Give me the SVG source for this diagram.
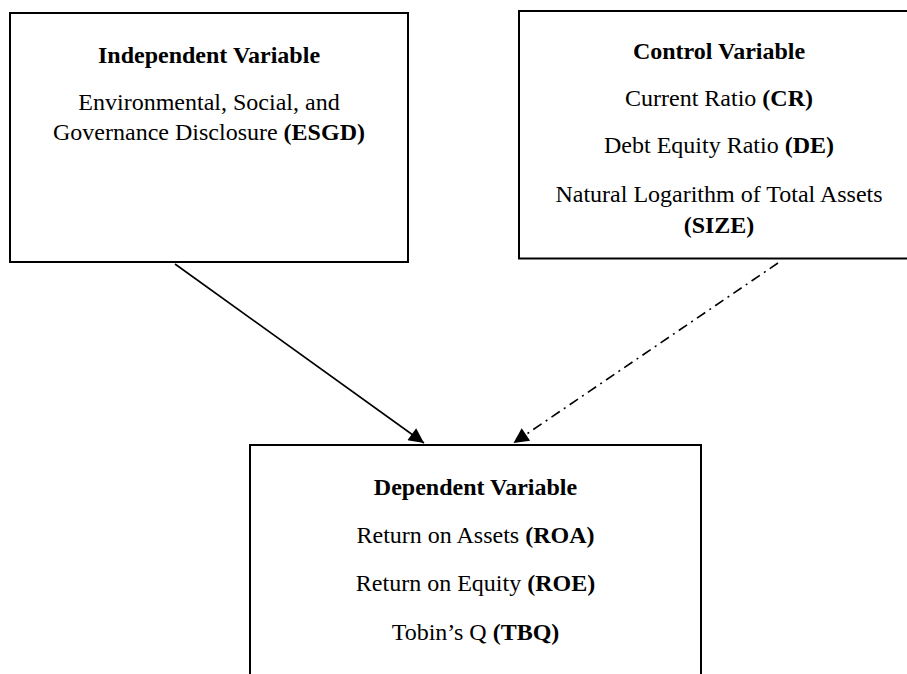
<svg xmlns="http://www.w3.org/2000/svg" width="907" height="674" viewBox="0 0 907 674">
<defs>
<style>
.box{fill:#fff;stroke:#000;stroke-width:2}
text{font-family:"Liberation Serif","Times New Roman",serif;font-size:24px;fill:#000;text-anchor:middle}
.b{font-weight:bold}
.conn{stroke:#000;stroke-width:1.6;fill:none}
.dd{stroke-dasharray:10 5 2 5}
</style>
<marker id="ah" viewBox="0 0 10 10" refX="10" refY="5" markerWidth="19" markerHeight="15" markerUnits="userSpaceOnUse" orient="auto">
<path d="M0,0 L10,5 L0,10 z" fill="#000"/>
</marker>
</defs>
<rect width="907" height="674" fill="#fff"/>
<g id="independent">
<rect class="box" x="10" y="13" width="398" height="249"/>
<text x="209" y="63" class="b">Independent Variable</text>
<text x="209" y="110">Environmental, Social, and</text>
<text x="209" y="140">Governance Disclosure <tspan class="b">(ESGD)</tspan></text>
</g>
<g id="control">
<rect class="box" x="519" y="11" width="400" height="247.5"/>
<text x="719" y="59" class="b">Control Variable</text>
<text x="719" y="106">Current Ratio <tspan class="b">(CR)</tspan></text>
<text x="719" y="153">Debt Equity Ratio <tspan class="b">(DE)</tspan></text>
<text x="719" y="202">Natural Logarithm of Total Assets</text>
<text x="719" y="233" class="b">(SIZE)</text>
</g>
<g id="dependent">
<rect class="box" x="250" y="445" width="451" height="240"/>
<text x="475.5" y="495" class="b">Dependent Variable</text>
<text x="475.5" y="543">Return on Assets <tspan class="b">(ROA)</tspan></text>
<text x="475.5" y="591">Return on Equity <tspan class="b">(ROE)</tspan></text>
<text x="475.5" y="640">Tobin’s Q <tspan class="b">(TBQ)</tspan></text>
</g>
<g id="connectors">
<line class="conn" x1="175" y1="264" x2="424" y2="443" marker-end="url(#ah)"/>
<line class="conn dd" x1="778" y1="263" x2="513.5" y2="443" marker-end="url(#ah)"/>
</g>
</svg>
